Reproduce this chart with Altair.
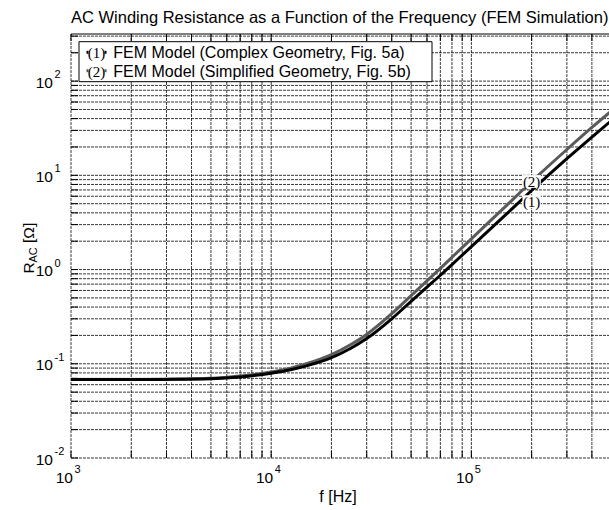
import altair as alt
import pandas as pd

# ---------------- data ----------------
freq = [1000, 2000, 3000, 5000, 7000, 10000, 12500, 15000, 20000, 25000, 30000, 40000,
        50000, 60000, 70000, 80000, 100000, 150000, 200000, 300000, 400000, 500000]
r_complex = [0.068, 0.068, 0.0683, 0.0695, 0.0725, 0.0795, 0.0865, 0.095, 0.116, 0.146, 0.185, 0.30,
             0.46, 0.65, 0.87, 1.13, 1.75, 3.9, 6.9, 15.0, 25.5, 38.0]
r_simplified = [0.068, 0.068, 0.0684, 0.070, 0.074, 0.082, 0.090, 0.100, 0.125, 0.160, 0.205, 0.34,
                0.53, 0.76, 1.03, 1.35, 2.12, 4.8, 8.6, 18.8, 32.2, 48.0]

x_grid = [1000, 2000, 3000, 4000, 5000, 6000, 7000, 8000, 9000,
          10000, 20000, 30000, 40000, 50000, 60000, 70000, 80000, 90000,
          100000, 200000, 300000, 400000]
y_grid = [0.01, 0.02, 0.03, 0.04, 0.05, 0.06, 0.07, 0.08, 0.09,
          0.1, 0.2, 0.3, 0.4, 0.5, 0.6, 0.7, 0.8, 0.9,
          1, 2, 3, 4, 5, 6, 7, 8, 9,
          10, 20, 30, 40, 50, 60, 70, 80, 90,
          100, 200, 300]
x_decades = [1000, 10000, 100000]
x_exponents = ["3", "4", "5"]
y_decades = [0.01, 0.1, 1, 10, 100]
y_exponents = ["-2", "-1", "0", "1", "2"]

series_tags = ["(1)", "(2)"]
legend_labels = ["FEM Model (Complex Geometry, Fig. 5a)",
                 "FEM Model (Simplified Geometry, Fig. 5b)"]
series_colors = ["#000000", "#5a5a5a"]
tag_f = [200000, 200000]
tag_r = [5.26, 8.6]

title_text = "AC Winding Resistance as a Function of the Frequency (FEM Simulation)"
x_title = "f [Hz]"

# ---------------- layout ----------------
W, H = 538, 424
FONT = "Liberation Sans"
SERIF = "Liberation Serif"

xs = alt.Scale(type="log", domain=[1000, 487000], nice=False)
ys = alt.Scale(type="log", domain=[0.01, 316.23], nice=False)

axis_kw = dict(grid=False, labels=False, ticks=False, domain=True,
               domainColor="#000000", domainWidth=1, title=None)

df_c = pd.DataFrame({"f": freq, "r": r_complex})
df_s = pd.DataFrame({"f": freq, "r": r_simplified})
one = pd.DataFrame({"k": [0]})

# dotted grid drawn from the grid value lists
df_xt = pd.DataFrame({"f": x_grid})
df_yt = pd.DataFrame({"r": y_grid})
grid_x = alt.Chart(df_xt).mark_rule(color="#000", strokeWidth=1, opacity=0.78, strokeDash=[3, 1]).encode(
    x=alt.X("f:Q", scale=xs, axis=alt.Axis(**axis_kw)), y=alt.value(0), y2=alt.value(H))
grid_y = alt.Chart(df_yt).mark_rule(color="#000", strokeWidth=1, opacity=0.78, strokeDash=[3, 1]).encode(
    y=alt.Y("r:Q", scale=ys, axis=alt.Axis(**axis_kw)), x=alt.value(0), x2=alt.value(W))

line_s = alt.Chart(df_s).mark_line(color=series_colors[1], strokeWidth=3, clip=True,
                                   interpolate="monotone").encode(
    x=alt.X("f:Q", scale=xs, axis=None),
    y=alt.Y("r:Q", scale=ys, axis=None),
)
line_c = alt.Chart(df_c).mark_line(color=series_colors[0], strokeWidth=3, clip=True,
                                   interpolate="monotone").encode(
    x=alt.X("f:Q", scale=xs, axis=None),
    y=alt.Y("r:Q", scale=ys, axis=None),
)

df_tags = pd.DataFrame({"f": tag_f, "r": tag_r, "t": series_tags})
tag_box = alt.Chart(df_tags).mark_point(
    shape="M-1.15,-0.8H1.15V0.8H-1.15Z", filled=True, fill="white", color="white",
    opacity=1, size=256).encode(
    x=alt.X("f:Q", scale=xs, axis=None), y=alt.Y("r:Q", scale=ys, axis=None))
tag_text = alt.Chart(df_tags).mark_text(font=SERIF, fontSize=15, align="center",
                                        baseline="middle", color="#000").encode(
    x=alt.X("f:Q", scale=xs, axis=None), y=alt.Y("r:Q", scale=ys, axis=None), text="t:N")

# ticks (inward)
bottom_ticks = alt.Chart(df_xt).mark_rule(color="#000", strokeWidth=1).encode(
    x=alt.X("f:Q", scale=xs, axis=None), y=alt.value(H), y2=alt.value(H - 7))
top_ticks = alt.Chart(df_xt).mark_rule(color="#000", strokeWidth=1).encode(
    x=alt.X("f:Q", scale=xs, axis=None), y=alt.value(0), y2=alt.value(7))
left_ticks = alt.Chart(df_yt).mark_rule(color="#000", strokeWidth=1).encode(
    y=alt.Y("r:Q", scale=ys, axis=None), x=alt.value(0), x2=alt.value(7))
top_border = alt.Chart(one).mark_rule(color="#000", strokeWidth=1).encode(
    x=alt.value(0), x2=alt.value(W), y=alt.value(0))

# tick labels with superscripts
df_xl = pd.DataFrame({"f": x_decades, "e": x_exponents, "b": ["10"] * len(x_decades)})
df_yl = pd.DataFrame({"r": y_decades, "e": y_exponents, "b": ["10"] * len(y_decades)})
xl_base = alt.Chart(df_xl).mark_text(align="right", baseline="alphabetic", dx=2,
                                     font=FONT, fontSize=15.5, color="#000").encode(
    x=alt.X("f:Q", scale=xs, axis=None), y=alt.value(H + 24.7), text="b:N")
xl_exp = alt.Chart(df_xl).mark_text(align="left", baseline="alphabetic", dx=3.5,
                                    font=FONT, fontSize=11, color="#000").encode(
    x=alt.X("f:Q", scale=xs, axis=None), y=alt.value(H + 15.3), text="e:N")
yl_base = alt.Chart(df_yl).mark_text(align="right", baseline="alphabetic", dy=6.5,
                                     font=FONT, fontSize=15.5, color="#000").encode(
    x=alt.value(-18), y=alt.Y("r:Q", scale=ys, axis=None), text="b:N")
yl_exp = alt.Chart(df_yl).mark_text(align="left", baseline="alphabetic", dy=-3,
                                    font=FONT, fontSize=11, color="#000").encode(
    x=alt.value(-16.5), y=alt.Y("r:Q", scale=ys, axis=None), text="e:N")

# legend
legend_box = alt.Chart(one).mark_rect(fill="white", stroke="#000", strokeWidth=1).encode(
    x=alt.value(8), x2=alt.value(361), y=alt.value(7.7), y2=alt.value(47.7))
legend_layers = []
row_y = [19.3, 37.7]
for i in range(2):
    d = pd.DataFrame({"t": [series_tags[i]], "l": [legend_labels[i]]})
    legend_layers.append(alt.Chart(d).mark_rule(color=series_colors[i], strokeWidth=3).encode(
        x=alt.value(15.5), x2=alt.value(35.5), y=alt.value(row_y[i] - 1)))
    legend_layers.append(alt.Chart(d).mark_rect(fill="white").encode(
        x=alt.value(17.5), x2=alt.value(33.5), y=alt.value(row_y[i] - 8), y2=alt.value(row_y[i] + 8)))
    legend_layers.append(alt.Chart(d).mark_text(font=SERIF, fontSize=15, align="center",
                                                baseline="middle", color="#000").encode(
        x=alt.value(25.5), y=alt.value(row_y[i]), text="t:N"))
    legend_layers.append(alt.Chart(d).mark_text(font=FONT, fontSize=16, align="left",
                                                baseline="middle", color="#000").encode(
        x=alt.value(42.3), y=alt.value(row_y[i]), text="l:N"))

# titles
title_mark = alt.Chart(pd.DataFrame({"t": [title_text]})).mark_text(
    font=FONT, fontSize=16.5, align="left", baseline="middle", color="#000").encode(
    x=alt.value(0), y=alt.value(-16.5), text="t:N")
xtitle_mark = alt.Chart(pd.DataFrame({"t": [x_title]})).mark_text(
    font=FONT, fontSize=16, align="center", baseline="middle", color="#000").encode(
    x=alt.value(267), y=alt.value(H + 39), text="t:N")
yt_r = alt.Chart(pd.DataFrame({"t": ["R"]})).mark_text(
    font=FONT, fontSize=15.5, align="left", baseline="alphabetic", angle=270, color="#000").encode(
    x=alt.value(-37.5), y=alt.value(239.5), text="t:N")
yt_sub = alt.Chart(pd.DataFrame({"t": ["AC"]})).mark_text(
    font=FONT, fontSize=11, align="left", baseline="alphabetic", angle=270, color="#000").encode(
    x=alt.value(-34.5), y=alt.value(228.5), text="t:N")
yt_unit = alt.Chart(pd.DataFrame({"t": ["[Ω]"]})).mark_text(
    font=FONT, fontSize=15.5, align="left", baseline="alphabetic", angle=270, color="#000").encode(
    x=alt.value(-37.5), y=alt.value(209), text="t:N")

chart = alt.layer(
    grid_x, grid_y,
    line_s, line_c, tag_box, tag_text,
    bottom_ticks, top_ticks, left_ticks, top_border,
    legend_box, *legend_layers,
    xl_base, xl_exp, yl_base, yl_exp,
    title_mark, xtitle_mark, yt_r, yt_sub, yt_unit,
).properties(
    width=W, height=H,
    autosize=alt.AutoSizeParams(type="none"),
    padding={"left": 71, "top": 34, "right": 0, "bottom": 52},
    background="white",
).configure_view(stroke=None)

chart.save("out.html", embed_options={"renderer": "svg", "actions": False})
